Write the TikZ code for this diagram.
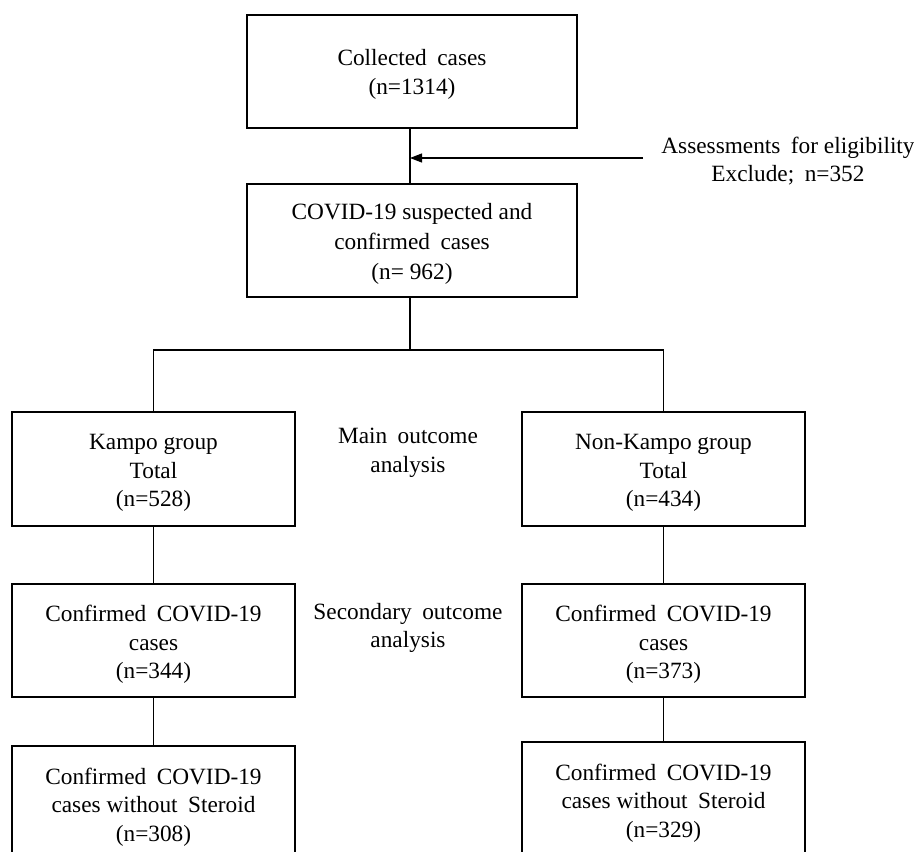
\documentclass[tikz,border=0pt]{standalone}
\usepackage{fontspec}
\setmainfont{Liberation Serif}
\usetikzlibrary{arrows.meta}
\newcommand{\wsp}{\hspace{0.45em}}
\begin{document}
\begin{tikzpicture}[x=1pt,y=-1pt,
  txt/.style={font=\fontsize{23.3}{28.5}\selectfont},
  box/.style={draw, line width=1.1pt, minimum width=283pt, minimum height=114pt, inner sep=0pt},
  lbl/.style={txt, align=center, inner sep=0pt},
  conn/.style={line width=1.1pt}]
\useasboundingbox (0,0) rectangle (914,852);
\clip (0,0) rectangle (914,852);
% top boxes
\node[box, minimum width=330pt, minimum height=113pt] (b1) at (412,71.5) {};
\node[lbl] (b1t) at ([yshift=-3pt]b1.center) {Collected\wsp cases\\(n=1314)};
\node[box, minimum width=330pt, minimum height=113pt] (b2) at (412,240.5) {};
\node[lbl, font=\fontsize{23.3}{30}\selectfont] (b2t) at ([yshift=-3pt]b2.center) {COVID-19 suspected and\\confirmed\wsp cases\\(n= 962)};
% exclusion
\node[lbl] (ex) at (788,161) {Assessments\wsp for eligibility\\Exclude;\wsp n=352};
\coordinate (exs) at (643,158);
\coordinate (exj) at (410,158);
% groups
\node[box] (k1) at (153.5,469) {};
\node[lbl] (k1t) at ([yshift=-4pt]k1.center) {Kampo group\\Total\\(n=528)};
\node[box] (n1) at (663.5,469) {};
\node[lbl] (n1t) at ([yshift=-4pt]n1.center) {Non-Kampo group\\Total\\(n=434)};
\node[box, minimum height=113pt] (k2) at (153.5,640.5) {};
\node[lbl] (k2t) at ([yshift=-4pt]k2.center) {Confirmed\wsp COVID-19\\cases\\(n=344)};
\node[box, minimum height=113pt] (n2) at (663.5,640.5) {};
\node[lbl] (n2t) at ([yshift=-4pt]n2.center) {Confirmed\wsp COVID-19\\cases\\(n=373)};
\node[box] (k3) at (153.5,803) {};
\node[lbl] (k3t) at ([yshift=-4pt]k3.center) {Confirmed\wsp COVID-19\\cases without\wsp Steroid\\(n=308)};
\node[box] (n3) at (663.5,799) {};
\node[lbl] (n3t) at ([yshift=-4pt]n3.center) {Confirmed\wsp COVID-19\\cases without\wsp Steroid\\(n=329)};
% side labels
\node[lbl] (main) at (408,453) {Main\wsp outcome\\analysis};
\node[lbl] (sec) at (408,628) {Secondary\wsp outcome\\analysis};
% connectors
\coordinate (t1) at (410,128);
\coordinate (t2) at (410,184);
\coordinate (t3) at (410,297);
\coordinate (split) at (410,350);
\draw[conn] (t1) -- (t2);
\draw[conn, -{Triangle[length=12pt,width=9pt]}] (exs) -- (exj);
\draw[conn] (t3) -- (split);
\draw[conn] (k1.north) -- (k1.north |- split) -- (n1.north |- split) -- (n1.north);
\draw[conn] (k1.south) -- (k2.north);
\draw[conn] (n1.south) -- (n2.north);
\draw[conn] (k2.south) -- (k3.north);
\draw[conn] (n2.south) -- (n3.north);
\end{tikzpicture}
\end{document}
